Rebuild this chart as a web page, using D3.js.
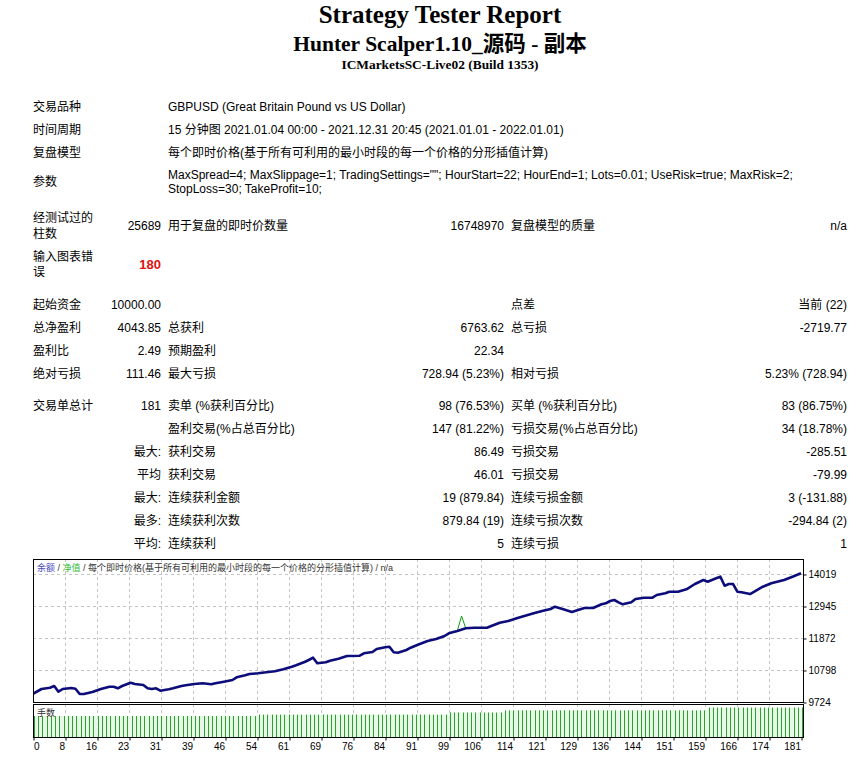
<!DOCTYPE html>
<html>
<head>
<meta charset="utf-8">
<script src="https://cdn.jsdelivr.net/npm/d3@7"></script>
<style>
  body { margin: 0; background: #fff; }
  svg { display: block; }
</style>
</head>
<body>
<svg id="report" width="867" height="757"></svg>
<script>
// Strategy tester report: header, statistics table, balance chart and lots panel.

// ---- header text ----
const titleLines = ['Strategy Tester Report', 'Hunter Scalper1.10_源码 - 副本', 'ICMarketsSC-Live02 (Build 1353)'];

// ---- table text ----
const infoLabels = ['交易品种', '时间周期', '复盘模型', '参数'];
const infoValues = [
  ['GBPUSD (Great Britain Pound vs US Dollar)'],
  ['15 分钟图 2021.01.04 00:00 - 2021.12.31 20:45 (2021.01.01 - 2022.01.01)'],
  ['每个即时价格(基于所有可利用的最小时段的每一个价格的分形插值计算)'],
  ['MaxSpread=4; MaxSlippage=1; TradingSettings=""; HourStart=22; HourEnd=1; Lots=0.01; UseRisk=true; MaxRisk=2;',
   'StopLoss=30; TakeProfit=10;']
];
const barsRow = [['经测试过的', '柱数'], '25689', '用于复盘的即时价数量', '16748970', '复盘模型的质量', 'n/a'];
const errorRow = [['输入图表错', '误'], '180'];
const statRows = [
  ['起始资金', '10000.00', '', '', '点差', '当前 (22)'],
  ['总净盈利', '4043.85', '总获利', '6763.62', '总亏损', '-2719.77'],
  ['盈利比', '2.49', '预期盈利', '22.34', '', ''],
  ['绝对亏损', '111.46', '最大亏损', '728.94 (5.23%)', '相对亏损', '5.23% (728.94)'],
  ['交易单总计', '181', '卖单 (%获利百分比)', '98 (76.53%)', '买单 (%获利百分比)', '83 (86.75%)'],
  ['', '', '盈利交易(%占总百分比)', '147 (81.22%)', '亏损交易(%占总百分比)', '34 (18.78%)'],
  ['', '最大:', '获利交易', '86.49', '亏损交易', '-285.51'],
  ['', '平均', '获利交易', '46.01', '亏损交易', '-79.99'],
  ['', '最大:', '连续获利金额', '19 (879.84)', '连续亏损金额', '3 (-131.88)'],
  ['', '最多:', '连续获利次数', '879.84 (19)', '连续亏损次数', '-294.84 (2)'],
  ['', '平均:', '连续获利', '5', '连续亏损', '1']
];

// ---- chart data ----
const tradeIdx = [0, 2, 4, 5, 6, 7, 9, 10, 11, 12, 14, 16, 18, 19, 20, 21, 23, 24, 26, 27, 28, 29, 30, 32, 33,
  35, 36, 38, 40, 42, 43, 45, 47, 48, 50, 51, 53, 55, 57, 59, 61, 62, 64, 65, 66, 67, 69, 70, 72, 74, 77,
  78, 80, 81, 83, 84, 85, 86, 88, 89, 91, 93, 95, 97, 98, 100, 102, 104, 107, 108, 110, 112, 114, 116,
  118, 120, 122, 123, 125, 127, 129, 130, 132, 134, 135, 136, 137, 138, 139, 141, 142, 144, 146, 147,
  149, 150, 152, 154, 156, 158, 159, 161, 162, 163, 164, 165, 166, 167, 169, 170, 172, 174, 177, 179, 181];
const balance = [10000, 10160, 10204, 10261, 10070, 10160, 10194, 10170, 9992, 9992, 10060, 10160, 10237,
  10237, 10184, 10261, 10372, 10328, 10294, 10184, 10160, 10184, 10103, 10150, 10184, 10261, 10284, 10328,
  10351, 10318, 10351, 10405, 10462, 10553, 10620, 10663, 10687, 10720, 10754, 10821, 10908, 10955, 11066,
  11133, 11210, 11022, 11056, 11110, 11177, 11267, 11277, 11358, 11402, 11502, 11559, 11579, 11391, 11378,
  11469, 11546, 11660, 11771, 11838, 11938, 12029, 12106, 12197, 12217, 12217, 12274, 12385, 12442, 12532,
  12619, 12700, 12777, 12844, 12921, 12834, 12744, 12834, 12878, 12878, 13002, 13035, 13113, 13146, 13069,
  13002, 13069, 13180, 13223, 13223, 13314, 13371, 13425, 13425, 13505, 13683, 13817, 13760, 13874, 13928,
  13626, 13683, 13683, 13425, 13404, 13347, 13425, 13592, 13706, 13817, 13928, 14044];
// equity only separates from balance around trade 101
const equityIdx = [100, 101, 102];
const equity = [12106, 12610, 12197];

// lots per trade, as runs: last trade of each run and its lot size
const lotRunEnd = [52, 97, 110, 158, 181];
const lotRunValue = [0.30, 0.32, 0.35, 0.38, 0.42];

const yTickValues = [9724, 10798, 11872, 12945, 14019];
const xTickLabels = ['0', '8', '16', '23', '31', '39', '46', '54', '61', '69', '76', '84', '91', '99',
  '106', '114', '121', '129', '136', '144', '151', '159', '166', '174', '181'];
const legendParts = [['余额', 'balance'], [' / ', 'text'], ['净值', 'equity'],
  [' / 每个即时价格(基于所有可利用的最小时段的每一个价格的分形插值计算) / n/a', 'text']];

const FONT = "'Liberation Sans', 'Noto Sans CJK SC', sans-serif";
const SERIF = "'Liberation Serif', 'Noto Sans CJK SC', serif";

const svg = d3.select('#report');
svg.append('rect').attr('width', 867).attr('height', 757).attr('fill', '#fff');

// ---- header ----
const headerStyle = [
  { y: 22.5, size: 25 },
  { y: 51, size: 21.5 },
  { y: 68.5, size: 13.4 }
];
svg.append('g').selectAll('text')
  .data(titleLines)
  .join('text')
  .attr('x', 440)
  .attr('y', (d, i) => headerStyle[i].y)
  .attr('text-anchor', 'middle')
  .attr('font-family', SERIF)
  .attr('font-weight', 'bold')
  .attr('font-size', (d, i) => headerStyle[i].size)
  .attr('fill', '#000')
  .text(d => d);

// ---- table ----
const table = svg.append('g')
  .attr('font-family', FONT)
  .attr('font-size', 12)
  .attr('fill', '#000');

const colX = [33, 161, 168, 504, 511, 847];
const colAnchor = ['start', 'end', 'start', 'end', 'start', 'end'];

function cell(x, y, txt, anchor) {
  if (!txt) return null;
  return table.append('text')
    .attr('x', x)
    .attr('y', y)
    .attr('dy', '0.35em')
    .attr('text-anchor', anchor || 'start')
    .text(txt);
}

const infoY = [[106.5], [129.5], [152.5], [175, 189]];
const infoLabelY = [106.5, 129.5, 152.5, 182];
infoLabels.forEach((label, i) => {
  cell(colX[0], infoLabelY[i], label);
  infoValues[i].forEach((line, j) => cell(colX[2], infoY[i][j], line));
});

// bars tested row (two-line label)
cell(colX[0], 217.5, barsRow[0][0]);
cell(colX[0], 233.5, barsRow[0][1]);
barsRow.slice(1).forEach((txt, j) => cell(colX[j + 1], 225.5, txt, colAnchor[j + 1]));

// chart errors row
cell(colX[0], 256.5, errorRow[0][0]);
cell(colX[0], 272, errorRow[0][1]);
cell(colX[1], 264.5, errorRow[1], 'end')
  .attr('fill', '#e01010')
  .attr('font-weight', 'bold')
  .attr('font-size', 13);

const statY = [305, 327.5, 350.5, 373.5, 405.5, 428.5, 451.5, 474.5, 497.5, 520.5, 543.5];
statRows.forEach((row, i) => {
  row.forEach((txt, j) => cell(colX[j], statY[i], txt, colAnchor[j]));
});

// ---- chart ----
const left = 33, right = 803;
const mainTop = 559, mainBottom = 702;
const lotTop = 704, lotBottom = 737;

const x = d3.scaleLinear().domain([0, 181]).range([left, 801]);
const y = d3.scaleLinear().domain([9724, 14522]).range([mainBottom, mainTop]);
const yLot = d3.scaleLinear().domain([0, 0.471]).range([lotBottom, lotTop]);

const gridTrades = xTickLabels.map((d, k) => k * 181 / 24);

const chart = svg.append('g');

chart.append('clipPath').attr('id', 'main-clip')
  .append('rect').attr('x', left).attr('y', mainTop)
  .attr('width', right - left).attr('height', mainBottom - mainTop);

// grid
const grid = chart.append('g')
  .attr('stroke', '#c4c4c4')
  .attr('stroke-width', 1)
  .attr('stroke-dasharray', '3,3');
grid.selectAll('line.h')
  .data(yTickValues.slice(1))
  .join('line')
  .attr('class', 'h')
  .attr('x1', left).attr('x2', right)
  .attr('y1', d => Math.round(y(d)) + 0.5)
  .attr('y2', d => Math.round(y(d)) + 0.5);
[[mainTop, mainBottom], [lotTop, lotBottom]].forEach(([t, b]) => {
  grid.append('g').selectAll('line')
    .data(gridTrades.slice(1, -1))
    .join('line')
    .attr('x1', d => Math.round(x(d)) + 0.5)
    .attr('x2', d => Math.round(x(d)) + 0.5)
    .attr('y1', t).attr('y2', b);
});

// lots panel
const lots = [];
lotRunEnd.forEach((end, r) => {
  const start = r === 0 ? 0 : lotRunEnd[r - 1] + 1;
  d3.range(start, end + 1).forEach(i => lots.push({ i, v: lotRunValue[r] }));
});
const step = x(1) - x(0);
chart.append('g').selectAll('rect')
  .data(lots.filter(d => d.i < 181))
  .join('rect')
  .attr('x', d => x(d.i) + 1)
  .attr('width', step)
  .attr('y', d => yLot(d.v))
  .attr('height', d => lotBottom - yLot(d.v))
  .attr('fill', '#e6f8e6');
chart.append('g').selectAll('line')
  .data(lots)
  .join('line')
  .attr('x1', d => Math.round(x(d.i) + 1) + 0.5)
  .attr('x2', d => Math.round(x(d.i) + 1) + 0.5)
  .attr('y1', d => yLot(d.v))
  .attr('y2', lotBottom)
  .attr('stroke', '#2f9f2f')
  .attr('stroke-width', 1);

// equity and balance lines
const plot = chart.append('g').attr('clip-path', 'url(#main-clip)');
plot.append('path')
  .datum(equityIdx.map((d, k) => [d, equity[k]]))
  .attr('fill', 'none')
  .attr('stroke', '#12a012')
  .attr('stroke-width', 1)
  .attr('d', d3.line().x(d => x(d[0])).y(d => y(d[1])));
plot.append('path')
  .datum(tradeIdx.map((d, k) => [d, balance[k]]))
  .attr('fill', 'none')
  .attr('stroke', '#0c0c7a')
  .attr('stroke-width', 2.6)
  .attr('stroke-linejoin', 'round')
  .attr('d', d3.line().x(d => x(d[0])).y(d => y(d[1])));

// frames
chart.append('rect')
  .attr('x', left + 0.5).attr('y', mainTop + 0.5)
  .attr('width', right - left).attr('height', mainBottom - mainTop)
  .attr('fill', 'none').attr('stroke', '#000');
chart.append('rect')
  .attr('x', left + 0.5).attr('y', lotTop + 0.5)
  .attr('width', right - left).attr('height', lotBottom - lotTop)
  .attr('fill', 'none').attr('stroke', '#000');

// axes
const xAxis = chart.append('g')
  .attr('transform', `translate(0.5,${lotBottom + 0.5})`)
  .call(d3.axisBottom(x).tickValues(gridTrades).tickSize(3)
    .tickFormat((d, k) => xTickLabels[k]));
xAxis.select('.domain').remove();
xAxis.selectAll('text')
  .attr('font-family', FONT)
  .attr('font-size', 10)
  .attr('fill', '#000')
  .attr('y', 5)
  .attr('text-anchor', (d, k) => k === 0 ? 'start' : 'end')
  .attr('x', (d, k) => k === 0 ? 0 : -1);

const yAxis = chart.append('g')
  .attr('transform', `translate(${right + 0.5},0.5)`)
  .call(d3.axisRight(y).tickValues(yTickValues).tickSize(3).tickFormat(d3.format('d')));
yAxis.select('.domain').remove();
yAxis.selectAll('text')
  .attr('font-family', FONT)
  .attr('font-size', 10)
  .attr('fill', '#000')
  .attr('x', 5);

// chart captions
const legendColor = { balance: '#4848c0', equity: '#30b830', text: '#333' };
chart.append('text')
  .attr('x', 37).attr('y', 568).attr('dy', '0.35em')
  .attr('font-family', FONT).attr('font-size', 9)
  .selectAll('tspan')
  .data(legendParts)
  .join('tspan')
  .attr('fill', d => legendColor[d[1]])
  .text(d => d[0]);
chart.append('text')
  .attr('x', 37).attr('y', 713).attr('dy', '0.35em')
  .attr('font-family', FONT).attr('font-size', 9)
  .attr('fill', '#333')
  .text('手数');
</script>
</body>
</html>
